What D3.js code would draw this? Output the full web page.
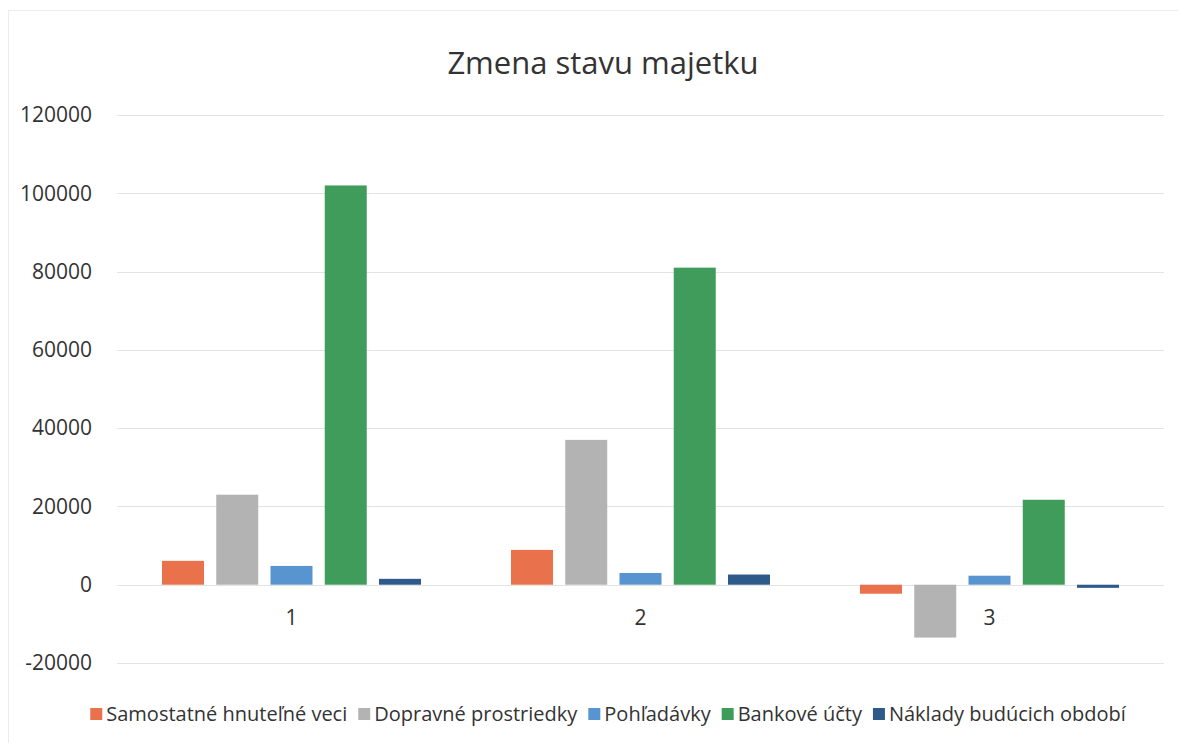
<!DOCTYPE html>
<html lang="sk">
<head>
  <meta charset="UTF-8" />
  <title>Zmena stavu majetku</title>
  <script src="https://d3js.org/d3.v7.min.js"></script>
  <style>
    body { margin: 0; background: #fff; }
    text { font-family: "Open Sans", "Noto Sans", sans-serif; fill: #333; }
  </style>
</head>
<body>
  <svg id="chart" width="1179" height="743"></svg>

  <script>
    // hodnoty odčítané z grafu
    const categories = ["1", "2", "3"];
    const seriesNames = ["Samostatné hnuteľné veci", "Dopravné prostriedky", "Pohľadávky", "Bankové účty", "Náklady budúcich období"];
    const seriesColors = ["#e9714b", "#b3b3b3", "#5895d0", "#3f9c5a", "#2d5a8a"];
    const samostatne = [6100, 8900, -2300];
    const dopravne = [23000, 37000, -13500];
    const pohladavky = [4800, 3000, 2300];
    const bankove = [102000, 81000, 21700];
    const naklady = [1500, 2600, -800];
    const yTicks = [-20000, 0, 20000, 40000, 60000, 80000, 100000, 120000];

    const seriesValues = [samostatne, dopravne, pohladavky, bankove, naklady];

    const width = 1179, height = 743;
    const margin = { top: 115, right: 15, bottom: 80, left: 117 };

    const svg = d3.select("#chart");

    // jemný rámček grafu
    svg.append("rect")
      .attr("x", 8.5).attr("y", 10.5)
      .attr("width", 1180).attr("height", 740)
      .attr("fill", "none")
      .attr("stroke", "#ececec");

    const x0 = d3.scaleBand()
      .domain(categories)
      .range([margin.left, width - margin.right]);

    const x1 = d3.scaleBand()
      .domain(d3.range(seriesNames.length))
      .range([45, x0.bandwidth() - 45])
      .paddingInner(0.226);

    const y = d3.scaleLinear()
      .domain([-20000, 120000])
      .range([663, 115]);

    // mriežka
    svg.append("g")
      .selectAll("line")
      .data(yTicks)
      .join("line")
      .attr("x1", margin.left)
      .attr("x2", width - margin.right)
      .attr("y1", d => Math.round(y(d)) + 0.5)
      .attr("y2", d => Math.round(y(d)) + 0.5)
      .attr("stroke", "#e3e3e3")
      .attr("stroke-width", 1);

    // os y
    const yAxis = svg.append("g")
      .attr("transform", `translate(${margin.left - 22},0)`)
      .call(d3.axisLeft(y).tickValues(yTicks).tickFormat(d => String(d)).tickSize(0));
    yAxis.select(".domain").remove();
    yAxis.selectAll("text")
      .attr("font-size", 21)
      .attr("fill", "#404040")
      .attr("dx", 0);

    // stĺpce
    const groups = svg.append("g")
      .selectAll("g")
      .data(categories)
      .join("g")
      .attr("transform", d => `translate(${x0(d)},0)`);

    groups.selectAll("rect")
      .data((c, ci) => seriesValues.map((vals, si) => ({ si, v: vals[ci] })))
      .join("rect")
      .attr("x", d => x1(d.si))
      .attr("width", x1.bandwidth())
      .attr("y", d => y(Math.max(0, d.v)))
      .attr("height", d => Math.abs(y(d.v) - y(0)))
      .attr("fill", d => seriesColors[d.si]);

    // kategórie
    svg.append("g")
      .selectAll("text")
      .data(categories)
      .join("text")
      .attr("x", d => x0(d) + x0.bandwidth() / 2)
      .attr("y", 625)
      .attr("text-anchor", "middle")
      .attr("font-size", 21)
      .attr("fill", "#404040")
      .text(d => d);

    // nadpis
    svg.append("text")
      .attr("x", 603)
      .attr("y", 74)
      .attr("text-anchor", "middle")
      .attr("font-size", 31)
      .attr("fill", "#333")
      .text("Zmena stavu majetku");

    // legenda
    const legend = svg.append("g");
    const items = legend.selectAll("g")
      .data(seriesNames)
      .join("g");
    items.append("rect")
      .attr("width", 12).attr("height", 12)
      .attr("y", -13)
      .attr("fill", (d, i) => seriesColors[i]);
    items.append("text")
      .attr("x", 16)
      .attr("font-size", 20)
      .attr("fill", "#333")
      .text(d => d);

    let pos = 0;
    items.each(function () {
      const g = d3.select(this);
      g.attr("transform", `translate(${pos},0)`);
      pos += 16 + g.select("text").node().getComputedTextLength() + 11;
    });
    const total = pos - 11;
    legend.attr("transform", `translate(${608 - total / 2},721)`);
  </script>
</body>
</html>
